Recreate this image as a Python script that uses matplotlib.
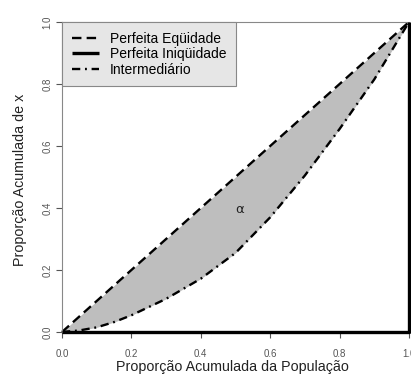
import matplotlib
matplotlib.use("Agg")
import matplotlib.pyplot as plt
import numpy as np

plt.rcParams['font.family'] = ['Liberation Sans', 'DejaVu Sans']

# Cumulative population share and the intermediate (Lorenz) curve
pop_share = [0.0, 0.05, 0.1, 0.15, 0.2, 0.3, 0.4, 0.5, 0.6, 0.7, 0.8, 0.9, 1.0]
lorenz = [0.0, 0.005, 0.015, 0.032, 0.054, 0.107, 0.172, 0.255, 0.37, 0.505, 0.655, 0.815, 1.0]

# Reference lines
equality_x = [0.0, 1.0]
equality_y = [0.0, 1.0]
inequality_x = [0.0, 1.0, 1.0]
inequality_y = [0.0, 0.0, 1.0]

ticks = [0.0, 0.2, 0.4, 0.6, 0.8, 1.0]
tick_labels = ["0.0", "0.2", "0.4", "0.6", "0.8", "1.0"]
legend_labels = ["Perfeita Eqüidade", "Perfeita Iniqüidade", "Intermediário"]

W, H = 411, 383
fig = plt.figure(figsize=(W / 100, H / 100), dpi=100)
ax = fig.add_axes([62 / W, 1 - 332 / H, 347 / W, 310 / H])

x = np.array(pop_share)
y = np.array(lorenz)
ax.fill_between(x, np.interp(x, equality_x, equality_y), y, color='#bebebe', lw=0)

l1, = ax.plot(equality_x, equality_y, color='black', lw=1.7,
              linestyle=(0, (4, 2.2)), clip_on=False)
l2, = ax.plot(inequality_x, inequality_y, color='black', lw=2.4,
              solid_capstyle='butt', clip_on=False, zorder=5)
l3, = ax.plot(x, y, color='black', lw=1.7,
              linestyle=(0, (3.5, 2, 0.8, 2)), clip_on=False)

ax.text(0.513, 0.394, "α", ha='center', va='center', fontsize=9.5,
        family=['DejaVu Sans'], color='#222222')

ax.set_xlim(0, 1)
ax.set_ylim(0, 1)
ax.set_xticks(ticks)
ax.set_xticklabels(tick_labels)
ax.set_yticks(ticks)
ax.set_yticklabels(tick_labels, rotation=90, va='center')
ax.tick_params(axis='both', direction='out', length=4, width=0.8,
               color='#555555', labelcolor='#555555', labelsize=7)
ax.tick_params(axis='x', pad=8.5)
ax.tick_params(axis='y', pad=3)

for side in ['left', 'top']:
    ax.spines[side].set_color('#888888')
    ax.spines[side].set_linewidth(0.8)
for side in ['right', 'bottom']:
    ax.spines[side].set_visible(False)

# Axis titles
fig.text(232.5 / W, 1 - 367 / H, "Proporção Acumulada da População",
         fontsize=10.3, color='#222222', ha='center', va='center')
fig.text(20 / W, 1 - 180 / H, "Proporção Acumulada de x", rotation=90,
         fontsize=10.3, color='#222222', ha='center', va='center')

leg = ax.legend([l1, l2, l3], legend_labels, loc='upper left',
                bbox_to_anchor=(0, 1), borderaxespad=0, fontsize=10,
                frameon=True, fancybox=False, handlelength=1.95,
                labelspacing=0.1, borderpad=0.7, handletextpad=0.8)
leg.get_frame().set_facecolor('#e6e6e6')
leg.get_frame().set_edgecolor('#888888')
leg.get_frame().set_linewidth(0.8)
leg.get_frame().set_alpha(1)

fig.savefig("out.png", dpi=100)
